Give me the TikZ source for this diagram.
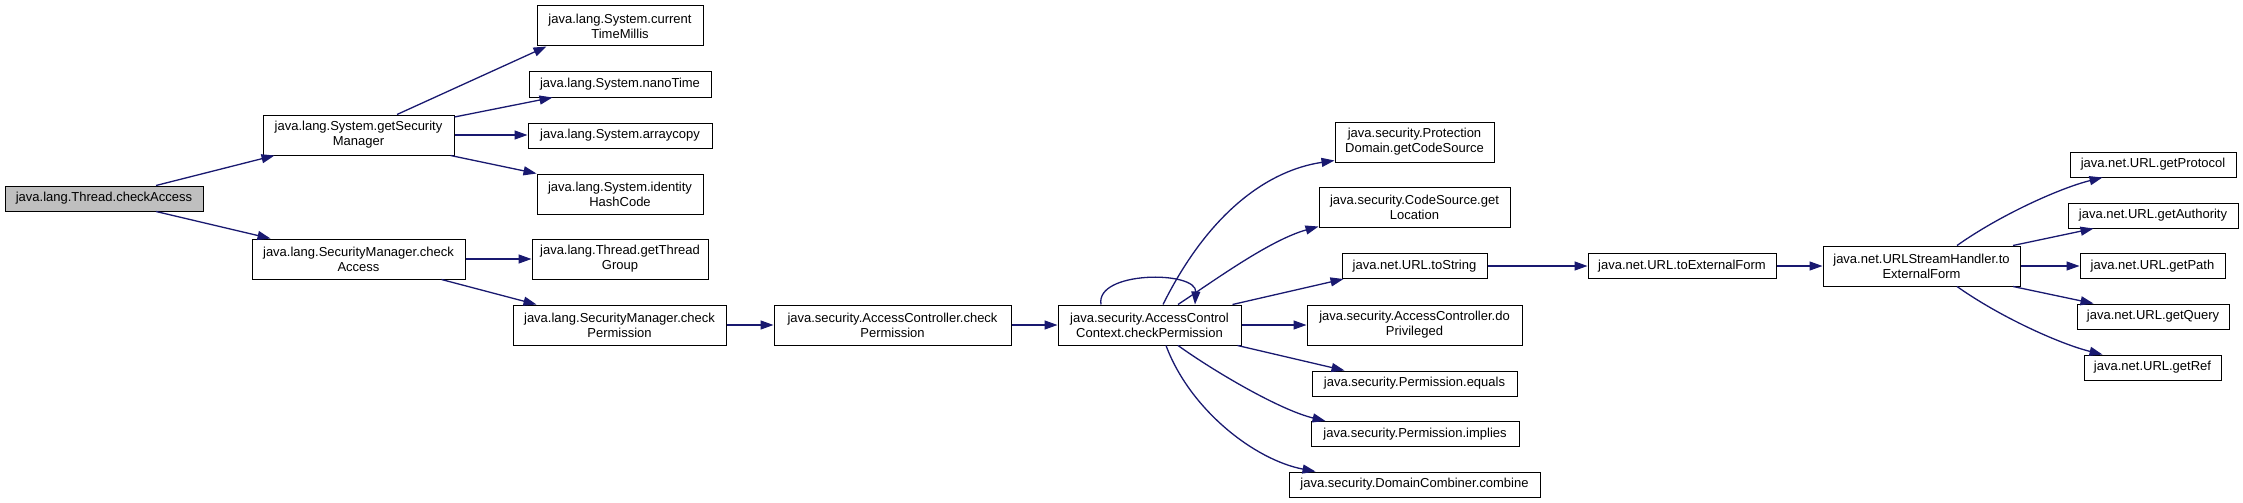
\documentclass[tikz,border=0pt]{standalone}
\usepackage{fontspec}
\setmainfont{Liberation Sans}
\usetikzlibrary{arrows.meta}
\definecolor{edgeblue}{HTML}{191970}
\definecolor{rootgray}{HTML}{BFBFBF}
\begin{document}
\begin{tikzpicture}[x=1pt,y=-1pt,
  fn/.style={draw=black, line width=1pt, fill=white, inner sep=0pt, align=center,
    font=\fontsize{13}{15}\selectfont},
  call/.style={draw=edgeblue, line width=1.3pt, -{Triangle[length=13pt,width=9pt]}}]
\useasboundingbox (0,0) rectangle (2243,503);
\fill[white] (0,0) rectangle (2243,503);

% column 0
\node[fn, fill=rootgray, minimum width=198pt, minimum height=25pt] (tca) at (104,198.5) {java.lang.Thread.checkAccess};
% column 1
\node[fn, minimum width=191pt, minimum height=40pt] (gsm) at (358.5,135) {java.lang.System.getSecurity\\Manager};
\node[fn, minimum width=213pt, minimum height=40pt] (smca) at (358.5,259) {java.lang.SecurityManager.check\\Access};
% column 2
\node[fn, minimum width=166pt, minimum height=40pt] (ctm) at (620,26) {java.lang.System.current\\TimeMillis};
\node[fn, minimum width=182pt, minimum height=25pt] (nano) at (620,84.5) {java.lang.System.nanoTime};
\node[fn, minimum width=184pt, minimum height=25pt] (arr) at (620,135.5) {java.lang.System.arraycopy};
\node[fn, minimum width=166pt, minimum height=40pt] (ihc) at (620,194) {java.lang.System.identity\\HashCode};
\node[fn, minimum width=176pt, minimum height=40pt] (gtg) at (620,259) {java.lang.Thread.getThread\\Group};
\node[fn, minimum width=213pt, minimum height=40pt] (smcp) at (619.5,325) {java.lang.SecurityManager.check\\Permission};
% column 3
\node[fn, minimum width=237pt, minimum height=40pt] (accp) at (892.5,325) {java.security.AccessController.check\\Permission};
% column 4
\node[fn, minimum width=183pt, minimum height=40pt] (accc) at (1149.5,325) {java.security.AccessControl\\Context.checkPermission};
% column 5
\node[fn, minimum width=159pt, minimum height=40pt] (pdgcs) at (1414.5,142) {java.security.Protection\\Domain.getCodeSource};
\node[fn, minimum width=191pt, minimum height=40pt] (csgl) at (1414.5,207) {java.security.CodeSource.get\\Location};
\node[fn, minimum width=145pt, minimum height=25pt] (urlts) at (1414.5,266) {java.net.URL.toString};
\node[fn, minimum width=215pt, minimum height=40pt] (acdp) at (1414.5,325) {java.security.AccessController.do\\Privileged};
\node[fn, minimum width=205pt, minimum height=25pt] (peq) at (1414.5,383.5) {java.security.Permission.equals};
\node[fn, minimum width=208pt, minimum height=25pt] (pimp) at (1415,434) {java.security.Permission.implies};
\node[fn, minimum width=251pt, minimum height=25pt] (dcc) at (1414.5,484.5) {java.security.DomainCombiner.combine};
% column 6
\node[fn, minimum width=188pt, minimum height=25pt] (urltef) at (1682,266) {java.net.URL.toExternalForm};
% column 7
\node[fn, minimum width=197pt, minimum height=40pt] (ushtef) at (1921.5,266) {java.net.URLStreamHandler.to\\ExternalForm};
% column 8
\node[fn, minimum width=166pt, minimum height=25pt] (gprot) at (2153,164.5) {java.net.URL.getProtocol};
\node[fn, minimum width=170pt, minimum height=25pt] (gauth) at (2153,215.5) {java.net.URL.getAuthority};
\node[fn, minimum width=145pt, minimum height=25pt] (gpath) at (2152.5,266) {java.net.URL.getPath};
\node[fn, minimum width=152pt, minimum height=25pt] (gquery) at (2153,316.5) {java.net.URL.getQuery};
\node[fn, minimum width=137pt, minimum height=25pt] (gref) at (2152.5,367.5) {java.net.URL.getRef};

% edges
\draw[call] ([xshift=52pt]tca.north) -- ([xshift=12pt]gsm.south west);
\draw[call] ([xshift=52pt]tca.south) -- ([xshift=19pt]smca.north west);
\draw[call] ([xshift=38.5pt]gsm.north) -- ([xshift=10pt]ctm.south west);
\draw[call] ([yshift=-2.5pt]gsm.north east) -- ([xshift=24pt]nano.south west);
\draw[call] (gsm.east) -- (gsm.east -| arr.west);
\draw[call] ([xshift=-4pt]gsm.south east) -- (ihc.north west);
\draw[call] (smca.east) -- (gtg.west);
\draw[call] ([xshift=-24pt]smca.south east) -- ([xshift=24pt]smcp.north west);
\draw[call] (smcp.east) -- (accp.west);
\draw[call] (accp.east) -- (accc.west);
\draw[call] ([xshift=-48.5pt]accc.north) .. controls +(-6,-34) and +(2,-34) .. ([xshift=45.5pt]accc.north);
\draw[call] ([xshift=13.5pt]accc.north) .. controls (1210,210) and (1270,170) .. ([yshift=2pt]pdgcs.south west);
\draw[call] ([xshift=28.5pt]accc.north) .. controls (1215,280) and (1270,240) .. ([yshift=1pt]csgl.south west);
\draw[call] ([xshift=-9pt]accc.north east) -- ([xshift=2pt]urlts.south west);
\draw[call] (accc.east) -- (acdp.west);
\draw[call] ([xshift=-4pt]accc.south east) -- ([xshift=33pt]peq.north west);
\draw[call] ([xshift=28.5pt]accc.south) .. controls (1215,372) and (1280,410) .. ([xshift=15pt]pimp.north west);
\draw[call] ([xshift=16.5pt]accc.south) .. controls (1190,410) and (1255,460) .. ([xshift=27pt]dcc.north west);
\draw[call] (urlts.east) -- (urltef.west);
\draw[call] (urltef.east) -- (ushtef.west);
\draw[call] ([xshift=35.5pt]ushtef.north) .. controls (2000,215) and (2060,188) .. ([xshift=33pt]gprot.south west);
\draw[call] ([xshift=-7.5pt]ushtef.north east) -- ([xshift=26pt]gauth.south west);
\draw[call] (ushtef.east) -- (gpath.west);
\draw[call] ([xshift=-7.5pt]ushtef.south east) -- ([xshift=17pt]gquery.north west);
\draw[call] ([xshift=35.5pt]ushtef.south) .. controls (2000,317) and (2060,344) .. ([xshift=19pt]gref.north west);
\end{tikzpicture}
\end{document}
